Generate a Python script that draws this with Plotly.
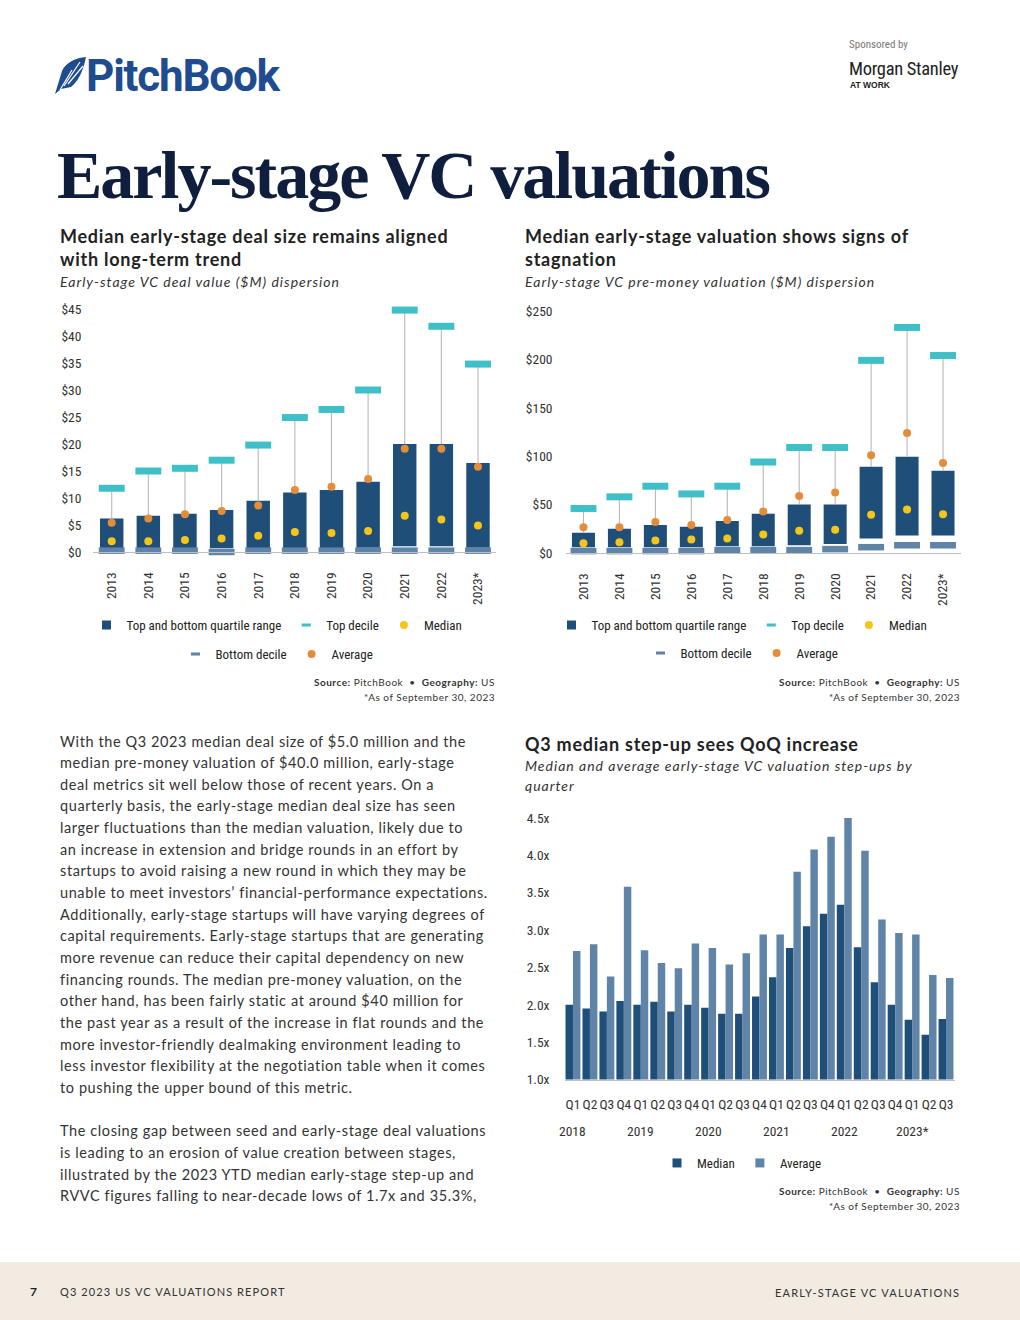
import plotly.graph_objects as go

# ---------------- DATA ----------------
years = ["2013", "2014", "2015", "2016", "2017", "2018", "2019", "2020", "2021", "2022", "2023*"]

# Deal size ($M)
deal_bottom_quartile = [0.7, 0.7, 0.7, 0.7, 0.7, 0.7, 0.7, 0.8, 1.05, 1.05, 0.8]
deal_top_quartile = [6.2, 6.7, 7.1, 7.8, 9.5, 11.0, 11.5, 13.0, 20.0, 20.0, 16.5]
deal_top_decile = [11.8, 15.0, 15.5, 17.0, 19.8, 24.9, 26.4, 30.0, 44.8, 41.8, 34.8]
deal_bottom_decile = [0.25, 0.25, 0.25, 0.0, 0.25, 0.25, 0.25, 0.25, 0.25, 0.25, 0.25]
deal_median = [2.0, 2.0, 2.2, 2.5, 3.0, 3.7, 3.5, 3.9, 6.7, 6.0, 4.9]
deal_average = [5.4, 6.2, 7.0, 7.6, 8.6, 11.5, 12.1, 13.5, 19.1, 19.1, 15.8]

# Pre-money valuation ($M)
val_bottom_quartile = [6, 6, 6, 6, 7, 7, 8, 9.3, 15, 18, 18]
val_top_quartile = [21, 25, 29, 27, 33, 40.6, 50, 50, 89, 99.4, 85]
val_top_decile = [46, 58, 69, 61, 69, 94, 109, 109, 199, 233, 204]
val_bottom_decile = [2, 2, 2, 2, 3, 3, 3, 4, 6, 8, 8]
val_median = [10, 11, 13, 14, 15, 19, 23, 24, 39.5, 45, 40]
val_average = [26.5, 26.5, 32, 29, 34, 43, 59, 62.6, 101, 124, 93]

# Step-ups by quarter
step_years = ["2018", "2019", "2020", "2021", "2022", "2023*"]
quarters = ["Q1", "Q2", "Q3", "Q4"] * 5 + ["Q1", "Q2", "Q3"]
periods = [f"{y} {q}" for y in step_years for q in ["Q1", "Q2", "Q3", "Q4"]][:23]
step_median = [2.00, 1.95, 1.91, 2.05, 2.00, 2.04, 1.91, 2.00, 1.96, 1.88, 1.88, 2.11,
               2.37, 2.76, 3.05, 3.22, 3.34, 2.77, 2.30, 2.00, 1.80, 1.60, 1.81]
step_average = [2.72, 2.81, 2.38, 3.58, 2.73, 2.56, 2.49, 2.82, 2.76, 2.54, 2.69, 2.94,
                2.94, 3.78, 4.08, 4.25, 4.50, 4.06, 3.14, 2.96, 2.94, 2.40, 2.36]

# ---------------- STYLE ----------------
W, H = 1020, 1320
NAVY = "#1F4E79"
STEEL = "#5F84A8"
TEAL = "#3FBFC8"
ORANGE = "#E38D3B"
YELLOW = "#F5C518"
GREY = "#B8B8B8"
NARROW = "Liberation Sans Narrow, Roboto Condensed, DejaVu Sans Condensed, Liberation Sans, sans-serif"
LATO = "Lato, Open Sans, sans-serif"
TITLE_NAVY = "#0E1E3C"


def px(x):
    return x / W


def py(y):
    return 1 - y / H


fig = go.Figure()


def dispersion(xa, ya, leg_a, leg_b, q1, q3, top, bot, med, avg):
    fig.add_trace(go.Bar(x=years, y=[b - a for a, b in zip(q1, q3)], base=q1,
                         width=0.64, offset=-0.32, marker=dict(color=NAVY, line=dict(width=0)),
                         xaxis=xa, yaxis=ya, showlegend=False, name="Top and bottom quartile range"))
    fig.add_trace(go.Scatter(x=years, y=q3, mode="markers", marker=dict(size=1, opacity=0),
                             error_y=dict(type="data", symmetric=False,
                                          array=[t - b for t, b in zip(top, q3)],
                                          arrayminus=[0] * len(years), width=0,
                                          thickness=1.1, color=GREY),
                             xaxis=xa, yaxis=ya, showlegend=False, hoverinfo="skip", cliponaxis=False))
    fig.add_trace(go.Scatter(x=years, y=top, mode="markers", name="Top decile",
                             marker=dict(symbol="line-ew", size=18.5, line=dict(width=7, color=TEAL)),
                             xaxis=xa, yaxis=ya, showlegend=False, cliponaxis=False))
    fig.add_trace(go.Scatter(x=years, y=bot, mode="markers", name="Bottom decile",
                             marker=dict(symbol="line-ew", size=18.5, line=dict(width=6.5, color=STEEL)),
                             xaxis=xa, yaxis=ya, showlegend=False, cliponaxis=False))
    fig.add_trace(go.Scatter(x=years, y=avg, mode="markers", name="Average",
                             marker=dict(symbol="circle", size=8, color=ORANGE),
                             xaxis=xa, yaxis=ya, showlegend=False, cliponaxis=False))
    fig.add_trace(go.Scatter(x=years, y=med, mode="markers", name="Median",
                             marker=dict(symbol="circle", size=8, color=YELLOW),
                             xaxis=xa, yaxis=ya, showlegend=False, cliponaxis=False))
    # legend entries
    entries = [
        ("Top and bottom quartile range", dict(symbol="square", size=9, color=NAVY), leg_a),
        ("Top decile", dict(symbol="line-ew", size=6.5, line=dict(width=3, color=TEAL)), leg_a),
        ("Median", dict(symbol="circle", size=8, color=YELLOW), leg_a),
        ("Bottom decile", dict(symbol="line-ew", size=6.5, line=dict(width=3, color=STEEL)), leg_b),
        ("Average", dict(symbol="circle", size=8, color=ORANGE), leg_b),
    ]
    for name, mk, lg in entries:
        fig.add_trace(go.Scatter(x=[None], y=[None], mode="markers", name=name, marker=mk,
                                 legend=lg, xaxis=xa, yaxis=ya, showlegend=True))


dispersion("x", "y", "legend", "legend2", deal_bottom_quartile, deal_top_quartile,
           deal_top_decile, deal_bottom_decile, deal_median, deal_average)
dispersion("x2", "y2", "legend3", "legend4", val_bottom_quartile, val_top_quartile,
           val_top_decile, val_bottom_decile, val_median, val_average)

# Step-up chart
fig.add_trace(go.Bar(x=periods, y=step_median, name="Median", width=0.44, offset=-0.44,
                     marker=dict(color=NAVY, line=dict(width=0)), xaxis="x3", yaxis="y3",
                     showlegend=False))
fig.add_trace(go.Bar(x=periods, y=step_average, name="Average", width=0.44, offset=0.0,
                     marker=dict(color=STEEL, line=dict(width=0)), xaxis="x3", yaxis="y3",
                     showlegend=False))
for name, col in [("Median", NAVY), ("Average", STEEL)]:
    fig.add_trace(go.Scatter(x=[None], y=[None], mode="markers", name=name,
                             marker=dict(symbol="square", size=9, color=col),
                             legend="legend5", xaxis="x3", yaxis="y3", showlegend=True))

tickfont = dict(family=NARROW, size=13.5, color="#333333")

common_x = dict(type="category", showgrid=False, zeroline=False, showline=True,
                linecolor="#BFBFBF", linewidth=1, ticks="", tickfont=tickfont, fixedrange=True,
                automargin=False)
common_y = dict(showgrid=False, zeroline=False, showline=False, ticks="",
                tickfont=tickfont, fixedrange=True, automargin=False)


def leg(cx, cy):
    return dict(x=px(cx), y=py(cy), xanchor="center", yanchor="middle", orientation="h",
                bgcolor="rgba(0,0,0,0)", font=dict(family=NARROW, size=13, color="#222222"),
                itemwidth=30, tracegroupgap=0, traceorder="normal", itemclick=False,
                itemdoubleclick=False)


fig.update_layout(
    width=W, height=H, margin=dict(l=0, r=0, t=0, b=0, pad=0, autoexpand=False),
    paper_bgcolor="white", plot_bgcolor="white",
    barmode="group", hovermode=False,
    xaxis=dict(common_x, domain=[px(93.4), px(496.3)], anchor="y", tickangle=-90,
               range=[-0.5, len(years) - 0.5], ticklabelstandoff=14),
    yaxis=dict(common_y, domain=[py(552), py(309)], anchor="x", range=[0, 45], dtick=5,
               tickprefix="$", ticklabelstandoff=11),
    xaxis2=dict(common_x, domain=[px(565.5), px(961)], anchor="y2", tickangle=-90,
                range=[-0.5, len(years) - 0.5], ticklabelstandoff=14),
    yaxis2=dict(common_y, domain=[py(553), py(311)], anchor="x2", range=[0, 250], dtick=50,
                tickprefix="$", ticklabelstandoff=12),
    xaxis3=dict(common_x, domain=[px(564.5), px(954.5)], anchor="y3",
                range=[-0.5, len(periods) - 0.5],
                tickvals=periods, ticktext=quarters, ticklabelstandoff=12),
    yaxis3=dict(common_y, domain=[py(1079.5), py(818)], anchor="x3", range=[1, 4.5],
                dtick=0.5, tickformat=".1f", ticksuffix="x", ticklabelstandoff=14),
    legend=leg(277, 625),
    legend2=leg(277, 654),
    legend3=leg(742, 625),
    legend4=leg(742, 653),
    legend5=leg(742, 1163),
)

ann = []


def txt(x, y, s, size, color="#222222", family=LATO, xanchor="left", yanchor="middle", ls=None):
    if ls is not None:
        s = f'<span style="letter-spacing:{ls}px">{s}</span>'
    ann.append(dict(x=px(x), y=py(y), xref="paper", yref="paper", text=s, showarrow=False,
                    xanchor=xanchor, yanchor=yanchor, align=xanchor if xanchor != "center" else "center",
                    font=dict(family=family, size=size, color=color)))


# Header
txt(84, 76, "<b>PitchBook</b>", 44, "#1E4C8F", "Roboto, Liberation Sans, sans-serif", ls=-1.2)
txt(847, 45, "Sponsored by", 11, "#777777", NARROW)
txt(847, 69, "Morgan Stanley", 18.5, "#222222", NARROW, ls=-0.3)
txt(848, 85, "<b>AT WORK</b>", 8.5, "#222222", "Liberation Sans, sans-serif")
txt(55, 175, "<b>Early-stage VC valuations</b>", 68, TITLE_NAVY,
    "Liberation Serif, DejaVu Serif, serif", ls=-2)

# Chart titles
TS, TLS = 18, 0.75
SS, SLS = 14, 1.0
txt(58, 236, "<b>Median early-stage deal size remains aligned</b>", TS, "#222222", ls=TLS)
txt(58, 259, "<b>with long-term trend</b>", TS, "#222222", ls=TLS)
txt(58, 281, "<i>Early-stage VC deal value ($M) dispersion</i>", SS, "#333333", ls=SLS)
txt(523, 236, "<b>Median early-stage valuation shows signs of</b>", TS, "#222222", ls=TLS)
txt(523, 259, "<b>stagnation</b>", TS, "#222222", ls=TLS)
txt(523, 281, "<i>Early-stage VC pre-money valuation ($M) dispersion</i>", SS, "#333333", ls=SLS)
txt(523, 744, "<b>Q3 median step-up sees QoQ increase</b>", TS, "#222222", ls=TLS)
txt(523, 765, "<i>Median and average early-stage VC valuation step-ups by</i>", SS, "#333333", ls=SLS)
txt(523, 785, "<i>quarter</i>", SS, "#333333", ls=SLS)

# Sources
src = "<b>Source:</b> PitchBook  •  <b>Geography:</b> US"
for xr, ys in [(497, 682), (962, 682), (962, 1191)]:
    txt(xr, ys, src, 10, "#333333", xanchor="right", ls=0.5)
    txt(xr, ys + 15, "*As of September 30, 2023", 10, "#333333", xanchor="right", ls=0.5)

# Year group labels for step-up chart
for i, yl in enumerate(step_years):
    ann.append(dict(x=periods[i * 4], y=py(1131), xref="x3", yref="paper", text=yl,
                    showarrow=False, xanchor="center", yanchor="middle",
                    font=dict(family=NARROW, size=13.5, color="#333333")))

# Body text
body = [
    "With the Q3 2023 median deal size of $5.0 million and the",
    "median pre-money valuation of $40.0 million, early-stage",
    "deal metrics sit well below those of recent years. On a",
    "quarterly basis, the early-stage median deal size has seen",
    "larger fluctuations than the median valuation, likely due to",
    "an increase in extension and bridge rounds in an effort by",
    "startups to avoid raising a new round in which they may be",
    "unable to meet investors’ financial-performance expectations.",
    "Additionally, early-stage startups will have varying degrees of",
    "capital requirements. Early-stage startups that are generating",
    "more revenue can reduce their capital dependency on new",
    "financing rounds. The median pre-money valuation, on the",
    "other hand, has been fairly static at around $40 million for",
    "the past year as a result of the increase in flat rounds and the",
    "more investor-friendly dealmaking environment leading to",
    "less investor flexibility at the negotiation table when it comes",
    "to pushing the upper bound of this metric.",
    "",
    "The closing gap between seed and early-stage deal valuations",
    "is leading to an erosion of value creation between stages,",
    "illustrated by the 2023 YTD median early-stage step-up and",
    "RVVC figures falling to near-decade lows of 1.7x and 35.3%,",
]
for i, line in enumerate(body):
    if line:
        txt(58, 741 + i * 21.65, line, 14.5, "#333333", ls=0.6)

# Footer
txt(28, 1291, "<b>7</b>", 12, "#222222", LATO)
txt(58, 1291, "Q3 2023 US VC VALUATIONS REPORT", 11, "#333333", ls=1.1)
txt(962, 1292, "EARLY-STAGE VC VALUATIONS", 11, "#333333", xanchor="right", ls=1.2)

shapes = [
    dict(type="rect", xref="paper", yref="paper", x0=0, x1=1, y0=0, y1=py(1262),
         fillcolor="#F2EBE1", line=dict(width=0), layer="below"),
]


def P(x, y):
    return f"{px(x):.5f},{py(y):.5f}"


# feather logo mark
feather = ("M" + P(55, 94) + " L" + P(62, 71) + " C" + P(66, 62) + " " + P(76, 58) + " " + P(86, 57)
           + " C" + P(84, 67) + " " + P(80, 80) + " " + P(71, 87) + " L" + P(61, 89) + " Z")
shapes.append(dict(type="path", xref="paper", yref="paper", path=feather,
                   fillcolor="#1E4C8F", line=dict(width=0)))
for (a, b), (c, d) in [((64, 86), (80, 62)), ((68, 84), (83, 66)), ((60, 90), (72, 70))]:
    shapes.append(dict(type="line", xref="paper", yref="paper", x0=px(a), y0=py(b),
                       x1=px(c), y1=py(d), line=dict(color="white", width=1.2)))

fig.update_layout(annotations=ann, shapes=shapes)

fig.write_html("out.html", config={"displayModeBar": False, "staticPlot": True},
               post_script="document.body.style.margin='0';document.body.style.overflow='hidden';")
